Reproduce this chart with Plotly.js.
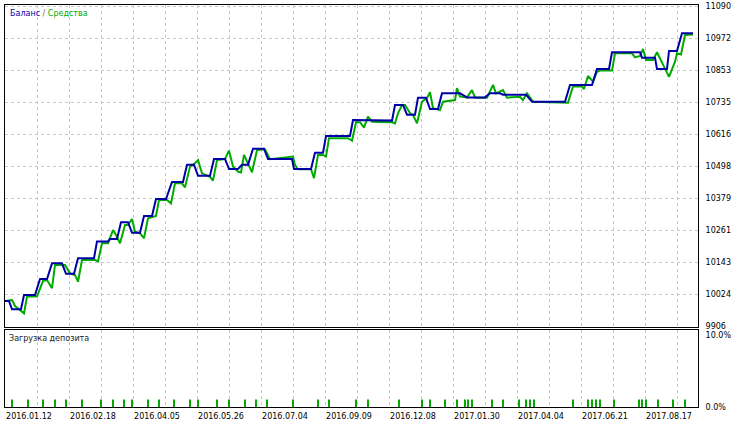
<!DOCTYPE html>
<html>
<head>
<meta charset="utf-8">
<script src="https://cdn.plot.ly/plotly-3.0.1.min.js"></script>
<style>html,body{margin:0;padding:0;background:#fff;}#chart{width:744px;height:424px;}</style>
</head>
<body>
<div id="chart"></div>
<script>
// Deal index (x) and values
const balanceX = [0,4,7,16,19,30,35,42,47,57,61,69,73,89,92,103,105,112,116,123,127,135,139,147,151,161,167,178,182,189,193,205,209,220,224,233,237,243,248,259,263,287,289,306,310,318,321,345,348,355,357,387,390,398,402,410,413,421,425,433,437,455,462,480,485,495,498,521,527,560,565,587,592,604,607,635,637,650,652,662,664,672,677,688];
const balanceY = [10000,10000,9969,9969,10022,10022,10081,10081,10139,10139,10100,10100,10158,10158,10220,10220,10229,10229,10291,10291,10252,10252,10314,10314,10377,10377,10440,10440,10504,10504,10463,10463,10525,10525,10488,10488,10504,10504,10563,10563,10525,10525,10488,10488,10548,10548,10610,10610,10669,10669,10667,10667,10725,10725,10689,10689,10752,10752,10710,10710,10768,10768,10753,10753,10768,10768,10763,10763,10737,10737,10799,10799,10858,10858,10920,10920,10900,10900,10858,10858,10925,10925,10990,10990];

const equityX = [0,7,10,15,19,22,32,38,42,47,50,60,65,70,73,77,90,93,97,103,108,111,115,120,123,127,130,135,139,143,151,154,162,166,170,177,180,185,189,193,197,205,208,212,220,224,228,233,236,239,243,247,252,260,265,288,290,293,306,309,313,318,321,324,343,347,351,355,359,363,367,387,390,393,397,400,405,408,412,417,422,425,428,435,438,450,452,455,462,467,470,482,488,491,498,502,515,518,522,525,528,563,568,577,579,583,586,588,592,595,607,610,627,630,635,638,641,648,652,656,659,664,670,672,676,680,688];
const equityY = [10000,10003,9981,9966,9954,10016,10016,10074,10077,10047,10133,10133,10102,10096,10071,10151,10151,10146,10213,10213,10262,10244,10213,10281,10281,10303,10256,10250,10232,10306,10314,10373,10373,10361,10435,10435,10420,10497,10506,10521,10472,10459,10445,10521,10525,10556,10497,10478,10475,10540,10509,10476,10558,10561,10524,10534,10503,10487,10487,10454,10540,10540,10534,10602,10602,10593,10661,10661,10641,10682,10663,10661,10657,10694,10725,10725,10695,10688,10657,10737,10750,10772,10713,10706,10737,10743,10787,10756,10753,10780,10752,10752,10799,10768,10780,10752,10755,10743,10768,10751,10737,10733,10793,10793,10784,10832,10820,10811,10848,10852,10852,10916,10916,10901,10906,10932,10891,10891,10920,10891,10867,10829,10885,10916,10912,10984,10986];

const loadX = [7,23,38,50,61,77,96,108,119,127,143,154,169,185,193,212,224,240,251,262,288,313,324,351,363,394,417,425,440,452,460,463,467,487,498,514,521,525,529,568,583,587,591,595,609,634,637,641,653,668,680];
const loadY = [1.05,1.05,1.05,1.05,1.05,1.05,1.05,1.05,1.05,1.05,1.05,1.05,1.05,1.05,1.05,1.05,1.05,1.05,1.05,1.05,1.05,1.05,1.05,1.05,1.05,1.05,1.05,1.05,1.05,1.05,1.05,1.05,1.05,1.05,1.05,1.05,1.05,1.05,1.05,1.05,1.05,1.05,1.05,1.05,1.05,1.05,1.05,1.05,1.05,1.05,1.05];

const yTickVals = [11090,10972,10853,10735,10616,10498,10379,10261,10143,10024,9906];
const yTickText = ['11090','10972','10853','10735','10616','10498','10379','10261','10143','10024','9906'];
const xTickVals = [0,32,64,96,128,160,192,224,256,288,320,352,384,416,448,480,512,544,576,608,640,672];
const xTickText = ['2016.01.12','','2016.02.18','','2016.04.05','','2016.05.26','','2016.07.04','','2016.09.09','','2016.12.08','','2017.01.30','','2017.04.04','','2017.06.21','','2017.08.17',''];
const loadTickVals = [0,10];
const loadTickText = ['0.0%','10.0%'];

const BLUE = '#0000a8';
const GREEN = '#00aa00';
const FONT = 'DejaVu Sans, Tahoma, sans-serif';

const traces = [
  {x: equityX, y: equityY, type:'scatter', mode:'lines', line:{color:GREEN, width:2}, xaxis:'x', yaxis:'y', hoverinfo:'skip'},
  {x: balanceX, y: balanceY, type:'scatter', mode:'lines', line:{color:BLUE, width:2}, xaxis:'x', yaxis:'y', hoverinfo:'skip'},
  {x: loadX, y: loadY, type:'bar', width:2, marker:{color:GREEN, line:{width:0}}, xaxis:'x2', yaxis:'y2', hoverinfo:'skip'}
];

const gridCommon = {showgrid:true, gridcolor:'#c8c8c8', griddash:'3px,3px', gridwidth:1, zeroline:false,
  showline:true, linecolor:'#000', linewidth:1, mirror:true};

const layout = {
  width:744, height:424,
  margin:{l:5, r:46, t:5, b:17},
  paper_bgcolor:'#fff', plot_bgcolor:'#fff',
  showlegend:false,
  font:{family:FONT, size:8, color:'#000'},
  xaxis: Object.assign({}, gridCommon, {range:[0,693], domain:[0,1], anchor:'y', tickmode:'array', tickvals:xTickVals, ticktext:xTickVals.map(()=> ''), ticks:''}),
  yaxis: Object.assign({}, gridCommon, {range:[9904.15,11094.8], domain:[0.1995,1], anchor:'x', side:'right', tickmode:'array', tickvals:yTickVals, ticktext:yTickText, ticks:'outside', ticklen:5, tickcolor:'rgba(0,0,0,0)', tickfont:{family:FONT, size:8, color:'#000'}}),
  xaxis2: Object.assign({}, gridCommon, {range:[0,693], domain:[0,1], anchor:'y2', matches:'x', tickmode:'array', tickvals:xTickVals, ticktext:xTickText, ticks:'outside', ticklen:1, tickcolor:'rgba(0,0,0,0)', ticklabelshift:24, tickfont:{family:FONT, size:8, color:'#000'}}),
  yaxis2: Object.assign({}, gridCommon, {showgrid:false, range:[0,10.66], domain:[0,0.1915], anchor:'x2', side:'right', tickmode:'array', tickvals:loadTickVals, ticktext:loadTickText, ticks:'outside', ticklen:5, tickcolor:'rgba(0,0,0,0)', tickfont:{family:FONT, size:8, color:'#000'}}),
  annotations:[
    {xref:'paper', yref:'paper', x:0.004, y:0.979, xanchor:'left', yanchor:'middle', showarrow:false,
     text:'<span style="color:'+BLUE+'">Баланс</span><span style="color:#7a6a30"> / </span><span style="color:'+GREEN+'">Средства</span>',
     font:{family:FONT, size:8}},
    {xref:'paper', yref:'paper', x:0.003, y:0.171, xanchor:'left', yanchor:'middle', showarrow:false,
     text:'Загрузка депозита', font:{family:FONT, size:8, color:'#202020'}}
  ]
};

Plotly.newPlot('chart', traces, layout, {staticPlot:true, displayModeBar:false});
</script>
</body>
</html>
